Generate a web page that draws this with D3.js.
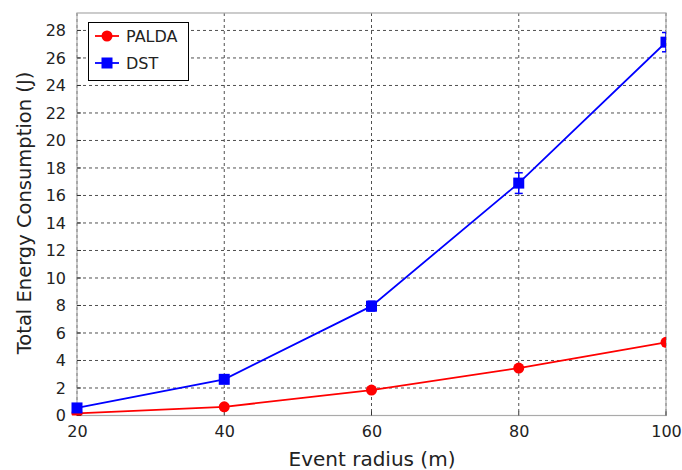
<!DOCTYPE html>
<html><head><meta charset="utf-8">
<script src="https://cdn.jsdelivr.net/npm/d3@7"></script>
<style>body{margin:0;background:#fff}svg{display:block}text{font-family:"DejaVu Sans",sans-serif}</style>
</head><body><svg id="c" width="682" height="470"></svg>
<script>
const radii = [20, 40, 60, 80, 100];
const palda = [0.15, 0.63, 1.85, 3.45, 5.32];
const paldaErr = [0.05, 0.1, 0.1, 0.15, 0.15];
const dst = [0.55, 2.63, 7.95, 16.9, 27.15];
const dstErr = [0.1, 0.2, 0.35, 0.75, 0.7];
const xTicks = [20, 40, 60, 80, 100];
const yTicks = [0,2,4,6,8,10,12,14,16,18,20,22,24,26,28];
const series = [
  {name: "PALDA", values: palda, err: paldaErr, color: "#ff0000", shape: "circle"},
  {name: "DST", values: dst, err: dstErr, color: "#0000ff", shape: "square"}
];

const svg = d3.select("#c");
const L = 77, R = 666, T = 13, B = 415.5;
const x = d3.scaleLinear().domain([20, 100]).range([L, R]);
const y = d3.scaleLinear().domain([0, 29.27]).range([B, T]);

// grid
const g = svg.append("g");
g.selectAll(".hg").data(yTicks).enter().append("line")
  .attr("x1", L).attr("x2", R).attr("y1", d => y(d)).attr("y2", d => y(d))
  .attr("stroke", "#333").attr("stroke-width", 1).attr("stroke-dasharray", "3,3").attr("opacity", 0.85);
g.selectAll(".vg").data(xTicks).enter().append("line")
  .attr("y1", T).attr("y2", B).attr("x1", d => x(d)).attr("x2", d => x(d))
  .attr("stroke", "#333").attr("stroke-width", 1).attr("stroke-dasharray", "3,3").attr("opacity", 0.85);

// frame
svg.append("rect").attr("x", L).attr("y", T).attr("width", R - L).attr("height", B - T)
  .attr("fill", "none").attr("stroke", "#aaa").attr("stroke-width", 1.2);

// axes
const xAxis = d3.axisBottom(x).tickValues(xTicks).tickSize(0).tickPadding(10).tickFormat(d3.format("d"));
const ya = d3.axisLeft(y).tickValues(yTicks).tickSize(0).tickPadding(11).tickFormat(d3.format("d"));
const gx = svg.append("g").attr("transform", `translate(0,${B})`).call(xAxis);
const gy = svg.append("g").attr("transform", `translate(${L},0)`).call(ya);
[gx, gy].forEach(a => {
  a.select(".domain").remove();
  a.selectAll("text").attr("font-size", 16).attr("fill", "#222").style("font-family", "DejaVu Sans");
});
gx.selectAll("text").attr("dy", "0.71em");

// inner tick marks
svg.append("g").selectAll("line").data(yTicks).enter().append("line")
  .attr("x1", L).attr("x2", L + 4).attr("y1", d => y(d)).attr("y2", d => y(d)).attr("stroke", "#333");
svg.append("g").selectAll("line").data(xTicks).enter().append("line")
  .attr("y1", B).attr("y2", B - 4).attr("x1", d => x(d)).attr("x2", d => x(d)).attr("stroke", "#333");

// labels
svg.append("text").attr("x", 372).attr("y", 466).attr("text-anchor", "middle")
  .attr("font-size", 20).attr("fill", "#222").text("Event radius (m)");
svg.append("text").attr("transform", "translate(31,213) rotate(-90)").attr("text-anchor", "middle")
  .attr("font-size", 19.5).attr("fill", "#222").text("Total Energy Consumption (J)");

// series
const clip = svg.append("clipPath").attr("id", "cp").append("rect")
  .attr("x", L - 8).attr("y", T - 20).attr("width", R - L + 8).attr("height", B - T + 20);
const line = d3.line().x((d, i) => x(radii[i])).y(d => y(d));
series.forEach(s => {
  const sg = svg.append("g").attr("clip-path", "url(#cp)");
  sg.append("path").datum(s.values).attr("d", line).attr("fill", "none")
    .attr("stroke", s.color).attr("stroke-width", 1.8);
  s.values.forEach((v, i) => {
    const cx = x(radii[i]);
    const e = s.err[i];
    sg.append("line").attr("x1", cx).attr("x2", cx).attr("y1", y(v - e)).attr("y2", y(v + e)).attr("stroke", s.color).attr("stroke-width", 1.5);
    [v - e, v + e].forEach(yy => sg.append("line").attr("x1", cx - 4).attr("x2", cx + 4).attr("y1", y(yy)).attr("y2", y(yy)).attr("stroke", s.color).attr("stroke-width", 1.5));
    if (s.shape === "circle") sg.append("circle").attr("cx", cx).attr("cy", y(v)).attr("r", 5.5).attr("fill", s.color);
    else sg.append("rect").attr("x", cx - 5.5).attr("y", y(v) - 5.5).attr("width", 11).attr("height", 11).attr("fill", s.color);
  });
});

// legend
const lg = svg.append("g");
lg.append("rect").attr("x", 88.5).attr("y", 22.5).attr("width", 100).attr("height", 58)
  .attr("fill", "#fff").attr("stroke", "#000").attr("stroke-width", 1);
series.forEach((s, i) => {
  const yy = 36 + i * 27;
  lg.append("line").attr("x1", 95).attr("x2", 119).attr("y1", yy).attr("y2", yy).attr("stroke", s.color).attr("stroke-width", 1.8);
  if (s.shape === "circle") lg.append("circle").attr("cx", 107).attr("cy", yy).attr("r", 5.5).attr("fill", s.color);
  else lg.append("rect").attr("x", 101.5).attr("y", yy - 5.5).attr("width", 11).attr("height", 11).attr("fill", s.color);
  lg.append("text").attr("x", 126).attr("y", yy).attr("dy", "0.36em").attr("font-size", 16).attr("fill", "#222").text(s.name);
});
</script></body></html>
